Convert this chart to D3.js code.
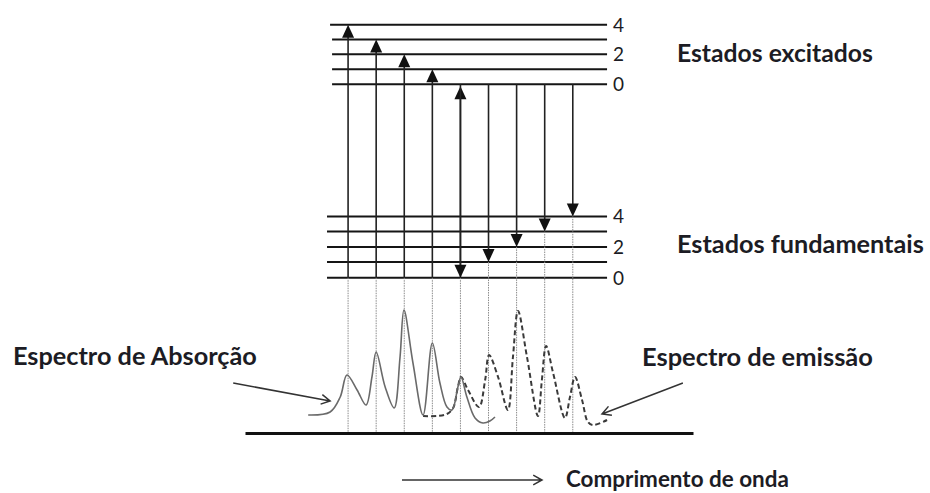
<!DOCTYPE html>
<html>
<head>
<meta charset="utf-8">
<script src="https://cdn.jsdelivr.net/npm/d3@7"></script>
<style>
  body { margin: 0; background: #fff; }
  svg { display: block; }
  .lbl { font-family: Lato, "Open Sans", sans-serif; font-weight: 700; fill: #1c1c24; }
  .num { font-family: Lato, "Open Sans", sans-serif; font-weight: 400; fill: #1c1c24; }
</style>
</head>
<body>
<svg id="chart" width="930" height="493"></svg>
<script>
// vibrational levels (energy units)
const groundLevels = [0, 1.05, 2.07, 3.1, 4.12];
const excitedLevels = [13, 14, 15.02, 16, 17];
const levelNames = ['0', '', '2', '', '4'];

// transitions: position on the wavelength axis and target level
const absorption = [
  {pos: 0, to: 4}, {pos: 1, to: 3}, {pos: 2, to: 2}, {pos: 3, to: 1}, {pos: 4, to: 0}
];
const emission = [
  {pos: 4, to: 0}, {pos: 5, to: 1}, {pos: 6, to: 2}, {pos: 7, to: 3}, {pos: 8, to: 4}
];

// spectra: [wavelength, intensity]
const absSpectrum = [
  [-1.42, 17], [-0.64, 20], [-0.28, 35], [-0.04, 57], [0.32, 42], [0.64, 27],
  [0.85, 55], [1.0, 80], [1.32, 45], [1.64, 24], [1.85, 75], [1.99, 122],
  [2.31, 69], [2.67, 17], [3.0, 89], [3.27, 49], [3.52, 25], [3.7, 22],
  [3.91, 45], [4.02, 55], [4.23, 35], [4.52, 14], [4.8, 9], [5.05, 11], [5.23, 15]
];
const emSpectrum = [
  [2.67, 16], [3.17, 16], [3.52, 18], [3.74, 24], [3.91, 45], [4.02, 55],
  [4.27, 42], [4.66, 25], [4.88, 52], [5.02, 77], [5.34, 55], [5.69, 22],
  [5.87, 75], [6.05, 121], [6.37, 75], [6.76, 16], [6.9, 52], [7.05, 86],
  [7.3, 59], [7.72, 14], [7.9, 35], [8.08, 55], [8.33, 32], [8.54, 10],
  [8.72, 7], [9.22, 12]
];

const svg = d3.select('#chart');

const x = d3.scaleLinear().domain([-3.67, 12.28]).range([245, 693]);
const yE = d3.scaleLinear().domain([0, 17]).range([277.7, 24.7]);
const yI = d3.scaleLinear().domain([0, 130]).range([432, 302]);

// energy levels
function levels(list, x0) {
  svg.append('g').selectAll('line').data(list).join('line')
      .attr('x1', (d, i) => (i === 4 && list === excitedLevels) ? x0 - 2 : x0)
      .attr('x2', x(9.22))
      .attr('y1', d => yE(d))
      .attr('y2', d => yE(d))
      .attr('stroke', '#151515')
      .attr('stroke-width', 2);
  svg.append('g').selectAll('text').data(list).join('text')
      .attr('class', 'num')
      .attr('x', 613)
      .attr('y', d => yE(d))
      .attr('dy', '0.36em')
      .style('font-size', '19px')
      .text((d, i) => levelNames[i]);
}
levels(excitedLevels, x(-0.57));
levels(groundLevels, x(-0.75));

// dotted guides down to the spectrum
const guides = absorption.map(d => ({pos: d.pos, top: groundLevels[0]}))
    .concat(emission.slice(1).map(d => ({pos: d.pos, top: groundLevels[d.to]})));
svg.append('g').selectAll('line').data(guides).join('line')
    .attr('x1', d => x(d.pos)).attr('x2', d => x(d.pos))
    .attr('y1', d => yE(d.top)).attr('y2', yI(0))
    .attr('stroke', '#8a8a8a')
    .attr('stroke-width', 1)
    .attr('stroke-dasharray', '1.5,1');

function head(px, py, dir) {
  // filled triangle, tip at (px, py); dir -1 = up, 1 = down
  const w = 6, h = 13;
  svg.append('path')
      .attr('d', `M${px},${py}L${px - w},${py - dir * h}L${px + w},${py - dir * h}Z`)
      .attr('fill', '#111');
}

// absorption arrows
absorption.forEach(d => {
  svg.append('line')
      .attr('x1', x(d.pos)).attr('x2', x(d.pos))
      .attr('y1', yE(groundLevels[0])).attr('y2', yE(excitedLevels[d.to]) + 8)
      .attr('stroke', '#222').attr('stroke-width', 1.6);
  head(x(d.pos), yE(excitedLevels[d.to]) + (d.to === 0 ? 2 : 0), -1);
});

// emission arrows
emission.forEach(d => {
  svg.append('line')
      .attr('x1', x(d.pos)).attr('x2', x(d.pos))
      .attr('y1', yE(excitedLevels[0])).attr('y2', yE(groundLevels[d.to]) - 8)
      .attr('stroke', '#222').attr('stroke-width', 1.6);
  head(x(d.pos), yE(groundLevels[d.to]), 1);
});

// spectra
const curve = d3.line()
    .x(d => x(d[0]))
    .y(d => yI(d[1]))
    .curve(d3.curveCatmullRom.alpha(0.5));

svg.append('path')
    .attr('d', curve(emSpectrum))
    .attr('fill', 'none')
    .attr('stroke', '#3a3a3a')
    .attr('stroke-width', 2)
    .attr('stroke-dasharray', '5,3');

svg.append('path')
    .attr('d', curve(absSpectrum))
    .attr('fill', 'none')
    .attr('stroke', '#6a6a6a')
    .attr('stroke-width', 1.6);

// baseline
svg.append('g')
    .attr('transform', `translate(0,${yI(0) + 1})`)
    .call(d3.axisBottom(x).ticks(0).tickSizeOuter(0))
    .call(g => g.select('.domain').attr('stroke', '#111').attr('stroke-width', 3));

// pointer arrows (open heads)
function pointer(x1, y1, x2, y2) {
  const a = Math.atan2(y2 - y1, x2 - x1);
  const L = 10, s = 0.5;
  svg.append('path')
      .attr('d', `M${x1},${y1}L${x2},${y2}` +
          `M${x2 - L * Math.cos(a - s)},${y2 - L * Math.sin(a - s)}L${x2},${y2}` +
          `L${x2 - L * Math.cos(a + s)},${y2 - L * Math.sin(a + s)}`)
      .attr('fill', 'none')
      .attr('stroke', '#333')
      .attr('stroke-width', 1.5);
}
pointer(x(-4.09), yI(49), x(-0.64), yI(31));
pointer(x(11.92), yI(49), x(9.04), yI(18));
pointer(402, 480, 542, 480);

// text labels, sized to the widths in the picture
function label(txt, lx, ly, width) {
  const t = svg.append('text')
      .attr('class', 'lbl')
      .attr('x', lx).attr('y', ly)
      .style('font-size', '20px')
      .text(txt);
  const w = t.node().getComputedTextLength();
  t.style('font-size', `${20 * width / w}px`);
}
label('Estados excitados', 677, 62, 196);
label('Estados fundamentais', 677, 253, 247);
label('Espectro de Absorção', 13, 365, 244);
label('Espectro de emissão', 642, 366, 231);
label('Comprimento de onda', 566, 487, 223);
</script>
</body>
</html>
